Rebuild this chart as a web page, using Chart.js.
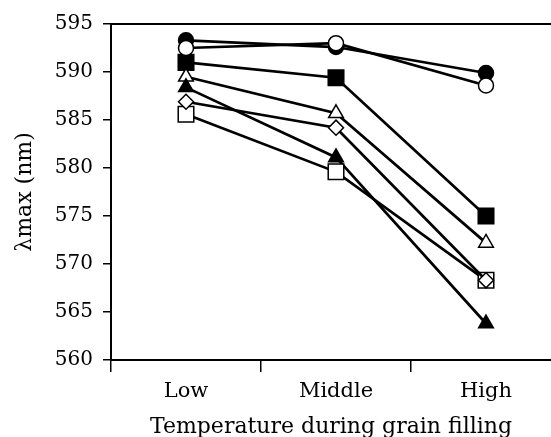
<!DOCTYPE html>
<html><head><meta charset="utf-8">
<script src="https://cdn.jsdelivr.net/npm/chart.js@4"></script>
<style>html,body{margin:0;padding:0;background:#fff;overflow:hidden}canvas{display:block}</style>
</head><body><canvas id="c" width="551" height="437" style="width:551px;height:437px"></canvas>
<script>
const categories = ["Low", "Middle", "High"];
const filledCircle = [593.3, 592.6, 589.9];
const openCircle = [592.5, 593.0, 588.6];
const filledSquare = [591.0, 589.4, 575.0];
const openTriangle = [589.5, 585.7, 572.2];
const filledTriangle = [588.4, 581.1, 563.8];
const openDiamond = [586.9, 584.2, 568.3];
const openSquare = [585.6, 579.6, 568.3];
const yTicks = [560, 565, 570, 575, 580, 585, 590, 595];

const FONT = "'DejaVu Serif', serif";
function ds(values, style, filled, r, order) {
  return { data: values.map((v, i) => ({ x: i, y: v })), pointStyle: style, pointRadius: r, pointHoverRadius: r,
    borderColor: '#000', backgroundColor: filled ? '#000' : '#fff',
    pointBorderColor: '#000', pointBackgroundColor: filled ? '#000' : '#fff',
    pointBorderWidth: 1.5, borderWidth: 2.7, tension: 0, fill: false, order };
}
const frame = { id: 'frame', afterDraw(chart) {
  const a = chart.chartArea, ctx = chart.ctx;
  ctx.save(); ctx.strokeStyle = '#000'; ctx.lineWidth = 2;
  ctx.beginPath(); ctx.moveTo(a.left, a.top); ctx.lineTo(551, a.top); ctx.stroke(); ctx.restore();
}};
new Chart(document.getElementById('c'), {
  type: 'line',
  data: { datasets: [
    ds(filledCircle, 'circle', true, 7.5, 6),
    ds(openCircle, 'circle', false, 7.5, 0),
    ds(filledSquare, 'rect', true, 11, 5),
    ds(openTriangle, 'triangle', false, 8.5, 4),
    ds(filledTriangle, 'triangle', true, 8.5, 3),
    ds(openSquare, 'rect', false, 11, 2),
    ds(openDiamond, 'rectRot', false, 7.5, 1)
  ]},
  options: {
    responsive: false, animation: false,
    layout: { autoPadding: false, padding: { top: 24, right: 0, left: 0, bottom: 0 } },
    plugins: { legend: { display: false }, tooltip: { enabled: false } },
    scales: {
      x: {
        type: 'linear', min: -0.5, max: 2.4333,
        afterBuildTicks(s) {
          const t = [];
          categories.forEach((c, i) => { t.push({ value: i - 0.5 }); t.push({ value: i }); });
          s.ticks = t;
        },
        grid: { drawOnChartArea: false, drawTicks: true, tickLength: 12, lineWidth: 1.5,
          color: (ctx) => (ctx.tick && Number.isInteger(ctx.tick.value)) ? 'rgba(0,0,0,0)' : '#000' },
        border: { display: true, color: '#000', width: 2 },
        ticks: { color: '#000', font: { family: FONT, size: 21 }, padding: 7, maxRotation: 0, autoSkip: false,
          callback: (v) => Number.isInteger(v) ? categories[v] : '' },
        title: { display: true, text: 'Temperature during grain filling', color: '#000', font: { family: FONT, size: 22, lineHeight: 1 }, padding: { top: 0, bottom: -1 } },
        afterFit(s) { s.height = 77; }
      },
      y: {
        min: 560, max: 595,
        afterBuildTicks(s) { s.ticks = yTicks.map(v => ({ value: v })); },
        grid: { drawOnChartArea: false, drawTicks: true, tickLength: 8, color: '#000', lineWidth: 1.5 },
        border: { display: true, color: '#000', width: 2 },
        ticks: { color: '#000', font: { family: FONT, size: 20 }, padding: 10 },
        title: { display: true, text: 'λmax (nm)', color: '#000', font: { family: FONT, size: 22, lineHeight: 1.2 }, padding: { top: 12, bottom: 0 } },
        afterFit(s) { s.width = 111; }
      }
    }
  },
  plugins: [frame]
});
</script></body></html>
